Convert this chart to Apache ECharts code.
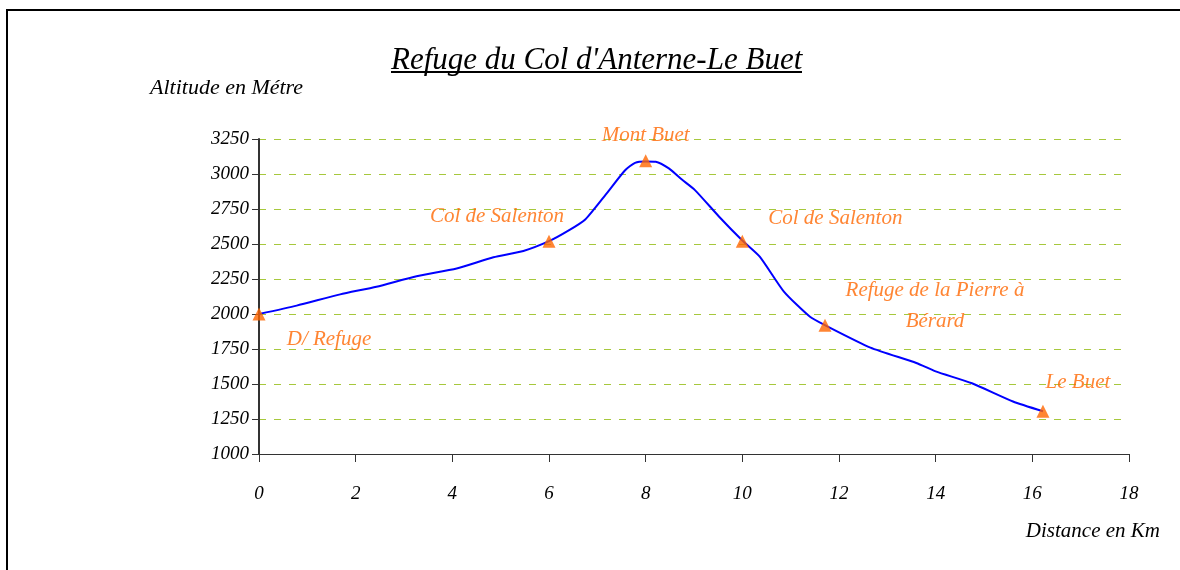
<!DOCTYPE html>
<html>
<head>
<meta charset="utf-8">
<script src="https://cdn.jsdelivr.net/npm/echarts@6/dist/echarts.min.js"></script>
<style>
  html, body { margin: 0; padding: 0; background: #fff; }
  #profil { width: 1180px; height: 570px; }
</style>
</head>
<body>
<div id="profil"></div>
<script>
// profil du parcours (km, m)
var distances = [0, 0.78, 1.68, 2.43, 3.26, 4.09, 4.85, 5.47, 6.0, 6.4, 6.75, 7.19, 7.57, 7.78, 8.0,
                 8.21, 8.48, 8.75, 9.02, 9.52, 10.0, 10.36, 10.86, 11.4, 11.71, 12.65, 13.6, 14.0, 14.75, 15.6, 16.22];
var altitudes = [2000, 2060, 2140, 2195, 2270, 2325, 2405, 2450, 2520, 2595, 2675, 2860, 3025, 3080, 3090,
                 3088, 3040, 2960, 2885, 2695, 2525, 2410, 2160, 1980, 1920, 1760, 1650, 1590, 1505, 1375, 1305];

// points de passage
var etapes_km = [0, 6, 8, 10, 11.71, 16.22];
var etapes_alt = [2000, 2520, 3095, 2520, 1920, 1305];
var etapes_nom = ['D/ Refuge', 'Col de Salenton', 'Mont Buet', 'Col de Salenton', 'Refuge de la Pierre à\nBérard', 'Le Buet'];
var etapes_decalage = [[70, 52], [-52, 2], [0, 2], [93, 4], [110, 23], [35, -2]];

var police = '"Liberation Serif", "DejaVu Serif", serif';
var orange = '#ff6600';

var chart = echarts.init(document.getElementById('profil'));

var ligne = distances.map(function(d, i) { return [d, altitudes[i]]; });
var etapes = etapes_km.map(function(d, i) {
    return {
        value: [d, etapes_alt[i]],
        name: etapes_nom[i],
        label: { offset: etapes_decalage[i] }
    };
});

option = {
    animation: false,
    title: {
        text: "Refuge du Col d'Anterne-Le Buet",
        left: 386,
        top: 40,
        textStyle: { fontFamily: police, fontStyle: 'italic', fontWeight: 'normal', fontSize: 31, color: '#000' }
    },
    grid: { left: 259, right: 51, top: 139, bottom: 116 },
    xAxis: {
        type: 'value',
        min: 0, max: 18, interval: 2,
        name: 'Distance en Km',
        nameLocation: 'end',
        nameGap: 0,
        nameTextStyle: { fontFamily: police, fontStyle: 'italic', fontSize: 21, color: '#000',
                         align: 'right', verticalAlign: 'top', padding: [67, -31, 0, 0] },
        axisLine: { lineStyle: { color: '#333', width: 1 } },
        axisTick: { length: 8, lineStyle: { color: '#333' } },
        axisLabel: { margin: 30, fontFamily: police, fontStyle: 'italic', fontSize: 19, color: '#000' },
        splitLine: { show: false }
    },
    yAxis: {
        type: 'value',
        min: 1000, max: 3250, interval: 250,
        name: 'Altitude en Métre',
        nameLocation: 'end',
        nameGap: 40,
        nameTextStyle: { fontFamily: police, fontStyle: 'italic', fontSize: 22, color: '#000', align: 'left', padding: [0, 0, 0, -109] },
        axisLine: { show: true, lineStyle: { color: '#333', width: 2 } },
        axisTick: { show: true, length: 7, lineStyle: { color: '#333' } },
        axisLabel: { margin: 10, fontFamily: police, fontStyle: 'italic', fontSize: 19, color: '#000',
                     formatter: function(v) { return String(v); } },
        splitLine: { show: true, lineStyle: { color: '#a6c83c', type: [7, 8], width: 1 } }
    },
    series: [
        {
            type: 'line',
            data: ligne,
            showSymbol: false,
            smooth: 0.2,
            lineStyle: { color: '#0000ff', width: 2 },
            z: 2
        },
        {
            type: 'scatter',
            data: etapes,
            symbol: 'triangle',
            symbolSize: 13,
            itemStyle: { color: orange },
            label: {
                show: true,
                position: 'top',
                formatter: '{b}',
                fontFamily: police,
                fontStyle: 'italic',
                fontSize: 21,
                lineHeight: 31,
                color: orange,
                align: 'center'
            },
            z: 3
        }
    ],
    graphic: [
        {
            type: 'polyline',
            shape: { points: [[7, 600], [7, 10], [1180, 10]] },
            style: { fill: 'none', stroke: '#000', lineWidth: 2 },
            silent: true
        },
        {
            type: 'line',
            shape: { x1: 391, y1: 72, x2: 802, y2: 72 },
            style: { stroke: '#000', lineWidth: 2 },
            silent: true
        }
    ]
};

chart.setOption(option);
</script>
</body>
</html>
